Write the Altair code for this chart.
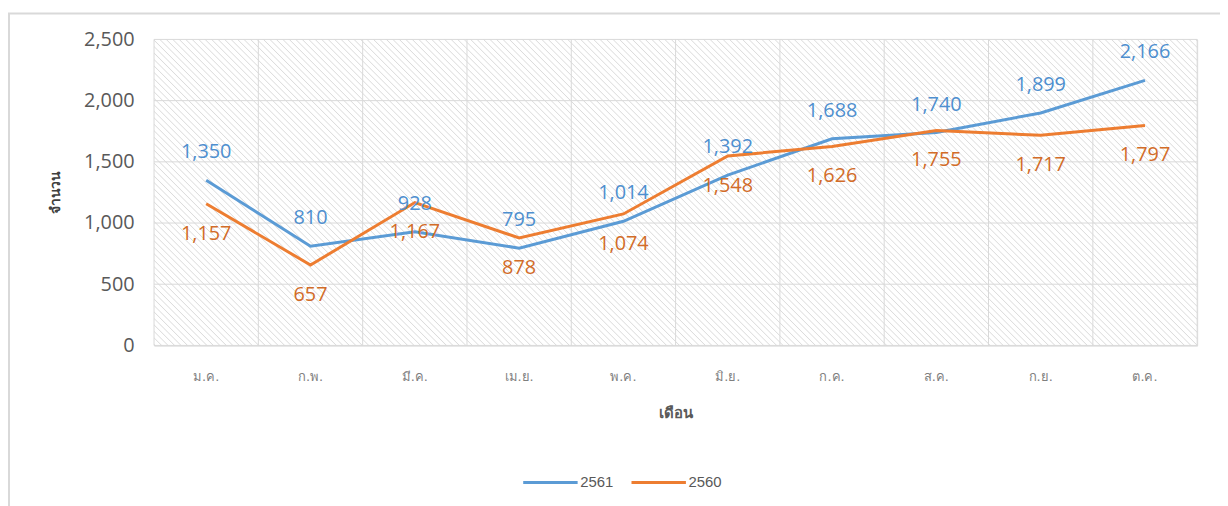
import altair as alt
import pandas as pd

months = ["ม.ค.", "ก.พ.", "มี.ค.", "เม.ย.", "พ.ค.", "มิ.ย.", "ก.ค.", "ส.ค.", "ก.ย.", "ต.ค."]
values_2561 = [1350, 810, 928, 795, 1014, 1392, 1688, 1740, 1899, 2166]
values_2560 = [1157, 657, 1167, 878, 1074, 1548, 1626, 1755, 1717, 1797]
series = ["2561", "2560"]
colors = ["#5B9BD5", "#ED7D31"]
label_colors = ["#4E8FCF", "#D26C28"]
y_ticks = [0, 500, 1000, 1500, 2000, 2500]

rows = []
for m, a, b in zip(months, values_2561, values_2560):
    rows.append({"month": m, "year": "2561", "value": a})
    rows.append({"month": m, "year": "2560", "value": b})
df = pd.DataFrame(rows)

W, H = 1050, 308
NUM_FONT = "Open Sans"
THAI_FONT = "Tahoma, DejaVu Sans, Noto Sans, sans-serif"
GRID = "#d9d9d9"

# diagonal hatching as a striped gradient on the plot background
D = W + H
period = 6.0
stops = []
k = 0
while k * period + 2 <= D:
    b0 = k * period
    stops.append(alt.GradientStop(offset=b0 / D, color="#ffffff"))
    stops.append(alt.GradientStop(offset=(b0 + 1) / D, color="#dcdcdc"))
    stops.append(alt.GradientStop(offset=(b0 + 2) / D, color="#ffffff"))
    k += 1
a = 1 + H / W
hatch = alt.LinearGradient(gradient="linear", stops=stops,
                           x1=0, y1=1, x2=a, y2=1 - a * H / W)

base = alt.Chart(df)

x_scale = alt.Scale(domain=months, paddingInner=0, paddingOuter=0)
y_scale = alt.Scale(domain=[0, 2500])
x_axis = alt.Axis(title="เดือน", labelAngle=0, grid=False,
                  ticks=False, domainColor=GRID,
                  labelFont=THAI_FONT, labelFontSize=13, labelColor="#7f7f7f",
                  labelPadding=25, titleFont=THAI_FONT, titleFontSize=15,
                  titleFontWeight="bold", titleColor="#595959", titlePadding=23)
y_axis = alt.Axis(title="จำนวน", values=y_ticks, format=",d",
                  grid=False, domain=False, ticks=False,
                  labelFont=NUM_FONT, labelFontSize=20, labelColor="#595959",
                  labelPadding=20, titleFont=THAI_FONT, titleFontSize=14,
                  titleFontWeight="bold", titleColor="#404040",
                  titleX=-99, titleY=154, titleAlign="center", titleBaseline="middle",
                  titleAngle=-90)
x_enc = alt.X("month:N", sort=months, scale=x_scale, axis=x_axis)
y_enc = alt.Y("value:Q", scale=y_scale, axis=y_axis)

color_enc = alt.Color("year:N", scale=alt.Scale(domain=series, range=colors),
                      legend=alt.Legend(title=None, orient="none", legendX=370, legendY=417,
                                        direction="horizontal", symbolType="stroke",
                                        symbolSize=3000, symbolStrokeWidth=3,
                                        labelFont="Liberation Sans", labelFontSize=15,
                                        labelColor="#595959", columnPadding=11, labelOffset=1))

one = pd.DataFrame({"k": [0]})
bg = alt.Chart(one).mark_rect(fill=hatch, strokeOpacity=0).encode(
    x=alt.value(0), x2=alt.value(W), y=alt.value(0), y2=alt.value(H))

ygrid = alt.Chart(pd.DataFrame({"value": y_ticks})).mark_rule(color=GRID, strokeWidth=1).encode(
    y=y_enc)
xgrid = alt.Chart(pd.DataFrame({"month": months})).mark_rule(color=GRID, strokeWidth=1).encode(
    x=alt.X("month:N", sort=months, scale=x_scale, bandPosition=0, axis=x_axis))
xgrid_end = alt.Chart(one).mark_rule(color=GRID, strokeWidth=1).encode(
    x=alt.value(W), y=alt.value(0), y2=alt.value(H))

line_blue = base.transform_filter(alt.datum.year == "2561").mark_line(strokeWidth=3).encode(
    x=x_enc, y=y_enc, color=color_enc)
line_orange = base.transform_filter(alt.datum.year == "2560").mark_line(strokeWidth=3).encode(
    x=x_enc, y=y_enc, color=color_enc)

text_blue = base.transform_filter(alt.datum.year == "2561").mark_text(
    dy=-28, font=NUM_FONT, fontSize=20, color=label_colors[0], baseline="middle").encode(
    x=x_enc, y=y_enc, text=alt.Text("value:Q", format=",d"))
text_orange = base.transform_filter(alt.datum.year == "2560").mark_text(
    dy=30, font=NUM_FONT, fontSize=20, color=label_colors[1], baseline="middle").encode(
    x=x_enc, y=y_enc, text=alt.Text("value:Q", format=",d"))

left_border = alt.Chart(one).mark_rule(color=GRID, strokeWidth=2).encode(
    x=alt.value(-146), y=alt.value(-26), y2=alt.value(470))
top_border = alt.Chart(one).mark_rule(color=GRID, strokeWidth=2).encode(
    x=alt.value(-147), x2=alt.value(1100), y=alt.value(-26))

chart = alt.layer(bg, ygrid, xgrid, xgrid_end, line_blue, line_orange, text_blue, text_orange,
                  left_border, top_border).properties(
    width=W, height=H,
    autosize=alt.AutoSizeParams(type="none"),
    padding={"left": 147, "top": 30, "right": 23, "bottom": 160},
).configure_view(strokeOpacity=0).configure(background="#ffffff")

chart.save("out.html", embed_options={"renderer": "svg", "actions": False})
